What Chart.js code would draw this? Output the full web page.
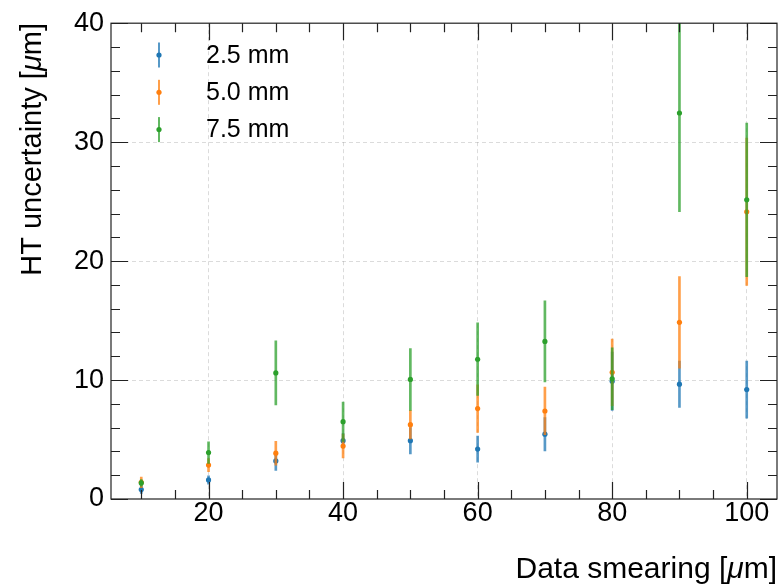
<!DOCTYPE html>
<html>
<head>
<meta charset="utf-8">
<script src="https://cdn.jsdelivr.net/npm/chart.js@4.4.1/dist/chart.umd.min.js"></script>
<style>
  html, body { margin: 0; padding: 0; background: #ffffff; }
  canvas { display: block; }
</style>
</head>
<body>
<canvas id="chart" width="781" height="587"></canvas>
<script>
// Data smearing values (µm) and fitted HT uncertainty (µm) for each step size
const smearing = [10, 20, 30, 40, 50, 60, 70, 80, 90, 100];

const sigma25 = [0.8, 1.6, 3.2, 4.9, 4.9, 4.2, 5.45, 9.9, 9.65, 9.2];
const err25   = [0.33, 0.35, 0.8, 0.6, 1.1, 1.1, 1.4, 2.45, 1.95, 2.4];

const sigma50 = [1.4, 2.85, 3.85, 4.45, 6.25, 7.6, 7.4, 10.65, 14.85, 24.15];
const err50   = [0.45, 0.55, 1.0, 1.0, 1.2, 2.0, 2.0, 2.8, 3.85, 6.2];

const sigma75 = [1.35, 3.9, 10.6, 6.5, 10.05, 11.75, 13.25, 10.1, 32.45, 25.15];
const err75   = [0.28, 0.9, 2.7, 1.65, 2.6, 3.05, 3.4, 2.6, 8.3, 6.45];

const seriesLabels = ['2.5 mm', '5.0 mm', '7.5 mm'];
const seriesColors = ['#1f77b4', '#ff7f0e', '#2ca02c'];

const xTickLabels = [20, 40, 60, 80, 100];
const yTickLabels = [0, 10, 20, 30, 40];

const FONT = '"Liberation Sans", Arial, Helvetica, sans-serif';

function withAlpha(hex, a) {
  const n = parseInt(hex.slice(1), 16);
  return `rgba(${(n >> 16) & 255},${(n >> 8) & 255},${n & 255},${a})`;
}

// One error-bar (floating bar) dataset and one marker dataset per series
const series = [
  { vals: sigma25, errs: err25 },
  { vals: sigma50, errs: err50 },
  { vals: sigma75, errs: err75 }
];

const datasets = [];
series.forEach((s, i) => {
  const color = seriesColors[i];
  datasets.push({
    type: 'bar',
    label: seriesLabels[i] + ' err',
    data: smearing.map((x, k) => ({ x: x, y: [s.vals[k] - s.errs[k], s.vals[k] + s.errs[k]] })),
    backgroundColor: withAlpha(color, 0.75),
    borderWidth: 0,
    barThickness: 2,
    grouped: false,
    order: 5 - 2 * i
  });
  datasets.push({
    type: 'scatter',
    label: seriesLabels[i],
    data: smearing.map((x, k) => ({ x: x, y: s.vals[k] })),
    backgroundColor: color,
    borderColor: color,
    borderWidth: 0,
    pointRadius: 2.6,
    order: 4 - 2 * i
  });
});

// Frame, inward ticks on all four sides, legend and axis titles
const decorations = {
  id: 'decorations',
  afterDraw(chart) {
    const ctx = chart.ctx;
    const a = chart.chartArea;
    const xs = chart.scales.x, ys = chart.scales.y;
    ctx.save();
    ctx.strokeStyle = '#222';
    ctx.lineWidth = 1.2;

    // x ticks (bottom and top)
    xs.ticks.forEach(t => {
      const px = Math.round(xs.getPixelForValue(t.value)) + 0.5;
      const len = xTickLabels.includes(t.value) ? 17 : 9;
      ctx.beginPath();
      ctx.moveTo(px, a.bottom); ctx.lineTo(px, a.bottom - len);
      ctx.moveTo(px, a.top); ctx.lineTo(px, a.top + len);
      ctx.stroke();
    });
    // y ticks (left and right)
    ys.ticks.forEach(t => {
      const py = Math.round(ys.getPixelForValue(t.value)) + 0.5;
      const len = yTickLabels.includes(t.value) ? 17 : 9;
      ctx.beginPath();
      ctx.moveTo(a.left, py); ctx.lineTo(a.left + len, py);
      ctx.moveTo(a.right, py); ctx.lineTo(a.right - len, py);
      ctx.stroke();
    });
    // frame
    ctx.strokeRect(a.left, a.top, a.right - a.left, a.bottom - a.top);

    // legend with error-bar symbols
    const lx = 159, ly0 = 55, dy = 37.3;
    seriesLabels.forEach((lab, i) => {
      const y = ly0 + i * dy;
      ctx.fillStyle = withAlpha(seriesColors[i], 0.75);
      ctx.fillRect(lx - 1, y - 12.5, 2, 25);
      ctx.fillStyle = seriesColors[i];
      ctx.beginPath();
      ctx.arc(lx, y, 2.6, 0, Math.PI * 2);
      ctx.fill();
      ctx.fillStyle = '#000';
      ctx.font = '25px ' + FONT;
      ctx.textBaseline = 'middle';
      ctx.textAlign = 'left';
      ctx.fillText(lab, 206, y + 1);
    });

    // axis titles with italic mu
    function titleParts(before, after, size) {
      return [
        { t: before, f: size + 'px ' + FONT },
        { t: '\u03bc', f: 'italic ' + size + 'px ' + FONT },
        { t: after, f: size + 'px ' + FONT }
      ];
    }
    function drawParts(parts, endX, baseY) {
      let w = 0;
      parts.forEach(p => { ctx.font = p.f; w += ctx.measureText(p.t).width; });
      let x = endX - w;
      ctx.textAlign = 'left';
      ctx.textBaseline = 'alphabetic';
      ctx.fillStyle = '#000';
      parts.forEach(p => { ctx.font = p.f; ctx.fillText(p.t, x, baseY); x += ctx.measureText(p.t).width; });
    }
    drawParts(titleParts('Data smearing [', 'm]', 30), 777, 578);
    ctx.save();
    ctx.translate(41, 0);
    ctx.rotate(-Math.PI / 2);
    drawParts(titleParts('HT uncertainty [', 'm]', 29), -23, 0);
    ctx.restore();

    ctx.restore();
  }
};

const gridColor = (majors, lo, hi) => (c) => {
  const v = c.tick ? c.tick.value : null;
  return (v !== null && majors.includes(v) && v !== lo && v !== hi) ? 'rgba(0,0,0,0.14)' : 'rgba(0,0,0,0)';
};

new Chart(document.getElementById('chart'), {
  type: 'scatter',
  data: { datasets: datasets },
  options: {
    responsive: false,
    animation: false,
    events: [],
    layout: { padding: { top: 22, right: 3, left: 0, bottom: 0 } },
    plugins: { legend: { display: false }, tooltip: { enabled: false } },
    scales: {
      x: {
        type: 'linear',
        min: 5.5,
        max: 104.5,
        offset: false,
        afterFit(s) { s.height = 88; },
        border: { display: false, dash: [4, 3] },
        grid: { offset: false, drawTicks: false, color: gridColor(xTickLabels, 5.5, 104.5), lineWidth: 1 },
        ticks: {
          stepSize: 5,
          includeBounds: false,
          autoSkip: false,
          maxRotation: 0,
          padding: -2,
          color: '#000',
          font: { family: FONT, size: 27 },
          callback: (v) => xTickLabels.includes(v) ? String(v) : ''
        }
      },
      y: {
        type: 'linear',
        min: 0,
        max: 40,
        afterFit(s) { s.width = 111; },
        border: { display: false, dash: [4, 3] },
        grid: { drawTicks: false, color: gridColor(yTickLabels, 0, 40), lineWidth: 1 },
        ticks: {
          stepSize: 2,
          autoSkip: false,
          padding: 7,
          color: '#000',
          font: { family: FONT, size: 27 },
          callback: (v) => yTickLabels.includes(v) ? String(v) : ''
        }
      }
    }
  },
  plugins: [decorations]
});
</script>
</body>
</html>
